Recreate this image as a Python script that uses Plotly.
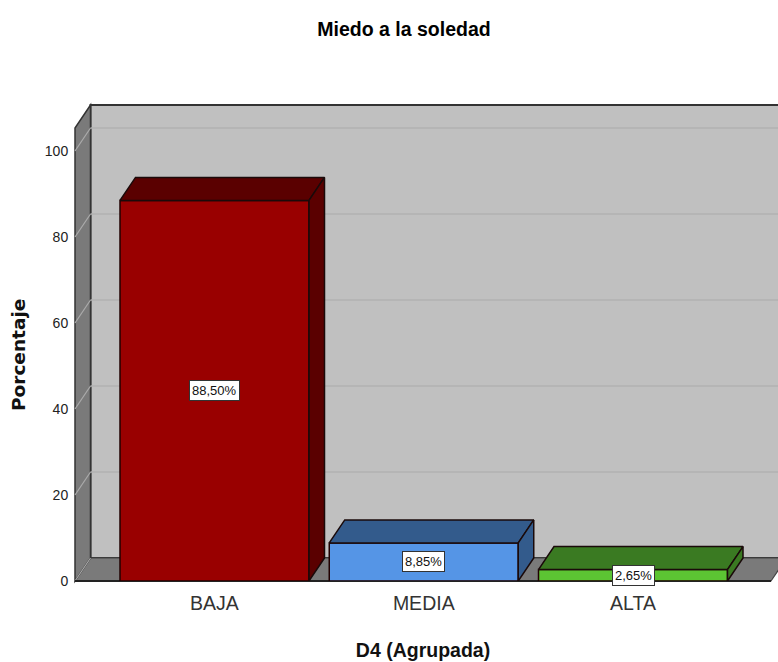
import plotly.graph_objects as go

categories = ["BAJA", "MEDIA", "ALTA"]
percent = [88.50, 8.85, 2.65]
labels = ["88,50%", "8,85%", "2,65%"]
y_ticks = [0, 20, 40, 60, 80, 100]
front_colors = ["#990000", "#5595E6", "#5CC433"]
dark_colors = ["#5A0000", "#335B8C", "#3A7A22"]

W, H = 778, 662
L, R, T, B = 75, 7, 105, 81
XUNIT = 209.25
YUNIT = 4.3
xmin = -(214.5 - L) / XUNIT
xmax = xmin + (W - L - R) / XUNIT
ymax = (H - B - T) / YUNIT
bar_w = 189 / XUNIT
dx = 15.5 / XUNIT
dy = 23 / YUNIT
SANS = "Liberation Sans"


def xp(x):
    return (x - xmin) / (xmax - xmin)


def yp(y):
    return y / ymax


def poly(points, fill, line="#222222", width=1.5):
    path = "M" + " L".join(f"{xp(a)},{yp(b)}" for a, b in points) + " Z"
    return dict(type="path", xref="paper", yref="paper", path=path, fillcolor=fill,
                line=dict(color=line, width=width), layer="below")


def seg(a, b, color, width=1.5):
    return dict(type="line", xref="paper", yref="paper", x0=xp(a[0]), y0=yp(a[1]), x1=xp(b[0]), y1=yp(b[1]),
                line=dict(color=color, width=width), layer="below")


top_front = ymax - dy
far = xmax + 0.1
shapes = [
    # back wall
    poly([(xmin + dx, dy), (far, dy), (far, ymax), (xmin + dx, ymax)], "#C0C0C0", "#333333", 2),
    # floor
    poly([(xmin, 0), (xmin + dx, dy), (far, dy), (xmax + dx, dy), (xmax, 0)], "#7A7A7A", "#444444", 1.2),
    # left wall
    poly([(xmin, 0), (xmin + dx, dy), (xmin + dx, ymax), (xmin, top_front)], "#7A7A7A", "#333333", 1.5),
]
for t in y_ticks:
    if t > 0:
        shapes.append(seg((xmin + dx, t + dy), (far, t + dy), "#B2B2B2", 1.5))
    shapes.append(seg((xmin, t), (xmin + dx, t + dy), "#ABABAB", 1.2))
shapes.append(seg((xmin, 0), (xmax, 0), "#222222", 2))

fig = go.Figure()
fig.add_trace(go.Bar(x=list(range(len(categories))), y=percent, width=bar_w,
                     marker=dict(color=front_colors, line=dict(color="#200000", width=1.5)),
                     hoverinfo="skip", showlegend=False))

for i, v in enumerate(percent):
    l, r = i - bar_w / 2, i + bar_w / 2
    fig.add_trace(go.Scatter(x=[l, l + dx, r + dx, r, l], y=[v, v + dy, v + dy, v, v], mode="lines",
                             fill="toself", fillcolor=dark_colors[i], line=dict(color="#1A0A0A", width=1.5),
                             hoverinfo="skip", showlegend=False))
    fig.add_trace(go.Scatter(x=[r, r + dx, r + dx, r, r], y=[0, dy, v + dy, v, 0], mode="lines",
                             fill="toself", fillcolor=dark_colors[i], line=dict(color="#1A0A0A", width=1.5),
                             hoverinfo="skip", showlegend=False))

annotations = [dict(x=i, y=v / 2, xref="x", yref="y", text=labels[i], showarrow=False,
                    font=dict(family=SANS, size=13, color="#111111"),
                    bgcolor="white", bordercolor="#333333", borderwidth=1, borderpad=2)
               for i, v in enumerate(percent)]
annotations.append(dict(text="<b>Porcentaje</b>", textangle=-90, showarrow=False, xref="paper", yref="paper",
                        x=(18 - L) / (W - L - R), y=(H - B - 355) / (H - B - T),
                        xanchor="center", yanchor="middle",
                        font=dict(family="DejaVu Sans", size=18.5, color="#111111")))

fig.update_layout(
    width=W, height=H, margin=dict(l=L, r=R, t=T, b=B, autoexpand=False),
    paper_bgcolor="white", plot_bgcolor="rgba(0,0,0,0)", showlegend=False,
    title=dict(text="<b>Miedo a la soledad</b>", x=404 / W, xanchor="center", y=1 - 29 / H, yanchor="middle",
               font=dict(family=SANS, size=19.5, color="#000000")),
    shapes=shapes, annotations=annotations,
    xaxis=dict(range=[xmin, xmax], tickmode="array", tickvals=list(range(len(categories))), ticktext=categories,
               showgrid=False, zeroline=False, showline=False, ticks="outside", ticklen=5, tickcolor="rgba(0,0,0,0)",
               tickfont=dict(family=SANS, size=19.5, color="#333333"),
               title=dict(text="<b>D4 (Agrupada)</b>", standoff=29,
                          font=dict(family=SANS, size=19.5, color="#111111"))),
    yaxis=dict(range=[0, ymax], tickmode="array", tickvals=y_ticks, ticktext=[str(t) for t in y_ticks],
               showgrid=False, zeroline=False, showline=False, ticks="outside", ticklen=3, tickcolor="rgba(0,0,0,0)",
               tickfont=dict(family=SANS, size=14, color="#222222")),
)
fig.write_html("out.html", config={"displayModeBar": False},
               post_script="document.body.style.margin='0';document.documentElement.style.overflow='hidden';")
